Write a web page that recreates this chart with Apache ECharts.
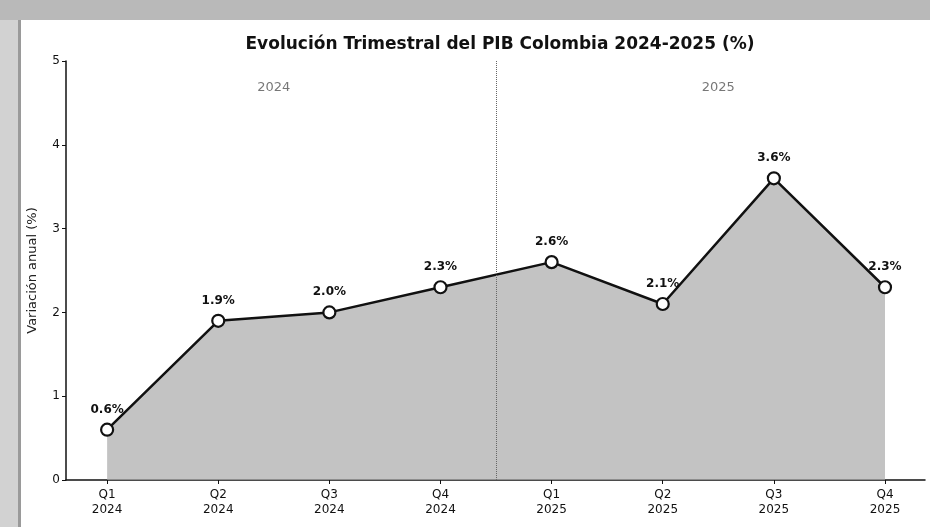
<!DOCTYPE html>
<html>
<head>
<meta charset="utf-8">
<script src="https://cdn.jsdelivr.net/npm/echarts@6/dist/echarts.min.js"></script>
<style>
  html, body { margin: 0; padding: 0; background: #fff; }
  #chart { width: 930px; height: 527px; }
</style>
</head>
<body>
<div id="chart"></div>
<script>
// datos del PIB trimestral
var quarters = ['Q1\n2024', 'Q2\n2024', 'Q3\n2024', 'Q4\n2024', 'Q1\n2025', 'Q2\n2025', 'Q3\n2025', 'Q4\n2025'];
var growth = [0.6, 1.9, 2.0, 2.3, 2.6, 2.1, 3.6, 2.3];
var yearLabels = ['2024', '2025'];
var yearPos = [1.5, 5.5];

var chart = echarts.init(document.getElementById('chart'));

var idx = quarters.map(function (q, i) { return i; });
var lineData = growth.map(function (v, i) { return [i, v]; });
var yearData = yearLabels.map(function (t, i) { return { value: [yearPos[i], 4.68], name: t }; });

var option = {
  backgroundColor: '#fff',
  animation: false,
  textStyle: { fontFamily: 'DejaVu Sans' },
  title: {
    text: 'Evolución Trimestral del PIB Colombia 2024-2025 (%)',
    left: 495,
    textAlign: 'center',
    top: 31,
    textStyle: { fontSize: 17, fontWeight: 'bold', color: '#111', fontFamily: 'DejaVu Sans' }
  },
  graphic: [
    { type: 'rect', shape: { x: 0, y: 0, width: 930, height: 20 }, style: { fill: '#b9b9b9' }, silent: true },
    { type: 'rect', shape: { x: 0, y: 20, width: 18, height: 507 }, style: { fill: '#d2d2d2' }, silent: true },
    { type: 'rect', shape: { x: 18, y: 20, width: 3, height: 507 }, style: { fill: '#9a9a9a' }, silent: true }
  ],
  grid: { left: 66, right: 5, top: 61, bottom: 47 },
  xAxis: {
    type: 'value',
    min: -0.37,
    max: 7.36,
    splitLine: { show: false },
    axisLine: { show: true, onZero: false, lineStyle: { color: '#111', width: 1.5 } },
    axisTick: { show: true, customValues: idx, length: 4, lineStyle: { color: '#111' } },
    axisLabel: {
      customValues: idx,
      formatter: function (v) { return quarters[Math.round(v)]; },
      color: '#111',
      fontSize: 12,
      lineHeight: 15,
      margin: 7
    }
  },
  yAxis: {
    type: 'value',
    min: 0,
    max: 5,
    interval: 1,
    name: 'Variación anual (%)',
    nameLocation: 'middle',
    nameGap: 27,
    nameTextStyle: { fontSize: 13, color: '#222' },
    splitLine: { show: false },
    axisLine: { show: true, onZero: false, lineStyle: { color: '#111', width: 1.5 } },
    axisTick: { show: true, length: 4, lineStyle: { color: '#111' } },
    axisLabel: { color: '#111', fontSize: 12, margin: 6 }
  },
  series: [
    {
      type: 'line',
      data: lineData,
      symbol: 'circle',
      symbolSize: 12,
      itemStyle: { color: '#fff', borderColor: '#111', borderWidth: 2.2 },
      lineStyle: { color: '#111', width: 2.5 },
      areaStyle: { color: '#aaaaaa', opacity: 0.7 },
      label: {
        show: true,
        position: 'top',
        distance: 7,
        formatter: function (p) { return p.value[1].toFixed(1) + '%'; },
        fontSize: 12,
        fontWeight: 'bold',
        color: '#111'
      },
      markLine: {
        silent: true,
        symbol: 'none',
        label: { show: false },
        lineStyle: { color: '#666', type: 'dotted', width: 1 },
        data: [{ xAxis: 3.5 }]
      },
      z: 3
    },
    {
      type: 'scatter',
      data: yearData,
      symbolSize: 0,
      silent: true,
      label: {
        show: true,
        position: 'inside',
        formatter: function (p) { return p.name; },
        fontSize: 13,
        color: '#555'
      }
    }
  ]
};

chart.setOption(option);
</script>
</body>
</html>
